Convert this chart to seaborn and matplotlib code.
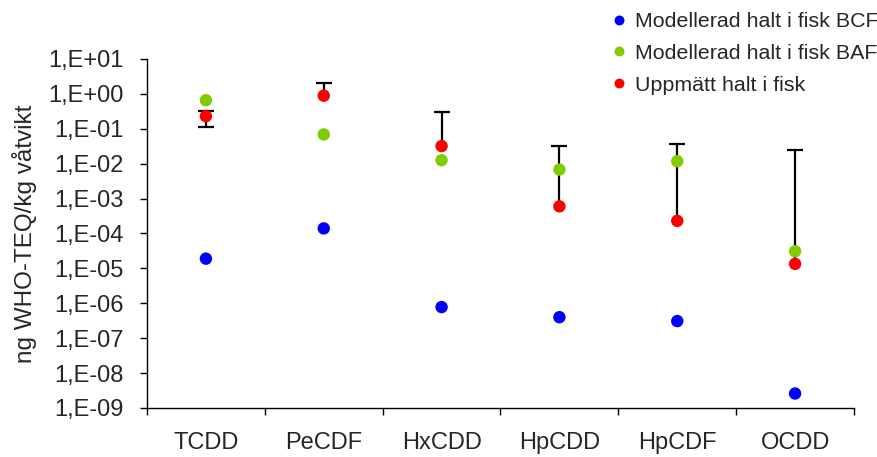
import numpy as np
import pandas as pd
import matplotlib
matplotlib.use("Agg")
import matplotlib.pyplot as plt
from matplotlib.ticker import FixedLocator, FuncFormatter, NullLocator
import seaborn as sns

categories = ["TCDD", "PeCDF", "HxCDD", "HpCDD", "HpCDF", "OCDD"]
bcf = [1.9e-5, 1.4e-4, 7.8e-7, 4.0e-7, 3.1e-7, 2.6e-9]
baf = [0.66, 0.069, 0.0126, 0.0068, 0.0118, 3.1e-5]
measured = [0.23, 0.89, 0.032, 6.0e-4, 2.3e-4, 1.35e-5]
meas_high = [0.32, 2.1, 0.30, 0.032, 0.037, 0.025]
meas_low = [0.11, 0.89, 0.032, 6.0e-4, 2.3e-4, 1.35e-5]
series_names = ["Modellerad halt i fisk BCF", "Modellerad halt i fisk BAF", "Uppmätt halt i fisk"]
colors = ["#0000FF", "#80CC00", "#FF0000"]
decades = list(range(-9, 2))

sns.set_style("ticks")
plt.rcParams["font.family"] = ["Liberation Sans", "DejaVu Sans"]

df = pd.DataFrame({
    "kategori": categories * 3,
    "serie": [series_names[0]] * 6 + [series_names[1]] * 6 + [series_names[2]] * 6,
    "varde": bcf + baf + measured,
})

fig = plt.figure(figsize=(8.78, 4.57), dpi=100)
ax = fig.add_axes([147 / 878, 1 - 408 / 457, (854 - 147) / 878, (408 - 59) / 457])

xpos = np.arange(len(categories))
meas = np.array(measured)
hi = np.array(meas_high)
lo = np.array(meas_low)

# error bar lines
ax.errorbar(xpos, meas, yerr=[meas - lo, hi - meas], fmt="none", ecolor="black",
            elinewidth=1.6, capsize=0, zorder=1)
# caps
ax.plot(xpos, hi, ls="none", marker="_", ms=11, mew=1.6, color="black", zorder=1)
mask = lo < meas
ax.plot(xpos[mask], lo[mask], ls="none", marker="_", ms=11, mew=1.6, color="black", zorder=1)

sns.scatterplot(data=df, x="kategori", y="varde", hue="serie", hue_order=series_names,
                palette=dict(zip(series_names, colors)), s=80, edgecolor="none",
                linewidth=0, ax=ax, zorder=3, legend=True)

ax.set_yscale("log")
ax.set_ylim(1e-9, 1e1)
ax.set_xlim(-0.5, len(categories) - 0.5)

ax.yaxis.set_major_locator(FixedLocator([10.0 ** e for e in decades]))
ax.yaxis.set_minor_locator(NullLocator())
ax.yaxis.set_major_formatter(FuncFormatter(lambda v, p: "1,E{:+03d}".format(int(round(np.log10(v))))))

ax.set_xticks(xpos)
ax.set_xticklabels(categories)
ax.set_xticks(np.arange(-0.5, len(categories)), minor=True)
ax.tick_params(axis="x", which="major", length=0, pad=17, labelsize=17)
ax.tick_params(axis="x", which="minor", length=5, width=1, direction="out", color="black")
ax.tick_params(axis="y", which="major", length=5, width=1, direction="out", pad=12,
               labelsize=17, color="black")

for s in ["top", "right"]:
    ax.spines[s].set_visible(False)
for s in ["left", "bottom"]:
    ax.spines[s].set_color("black")
    ax.spines[s].set_linewidth(1)

ax.set_xlabel("")
ax.set_ylabel("ng WHO-TEQ/kg våtvikt", fontsize=17.5)
ax.yaxis.set_label_coords((37 - 147) / 707, 0.5)

handles, labels = ax.get_legend_handles_labels()
leg = ax.legend(handles, labels, loc="upper left", bbox_to_anchor=(613 / 878, 1 - 12 / 457),
                bbox_transform=fig.transFigure, frameon=False, fontsize=15.4,
                handlelength=0.6, handletextpad=0.45, labelspacing=0.6,
                borderpad=0, borderaxespad=0, markerscale=0.8)

fig.savefig("out.png", dpi=100)
